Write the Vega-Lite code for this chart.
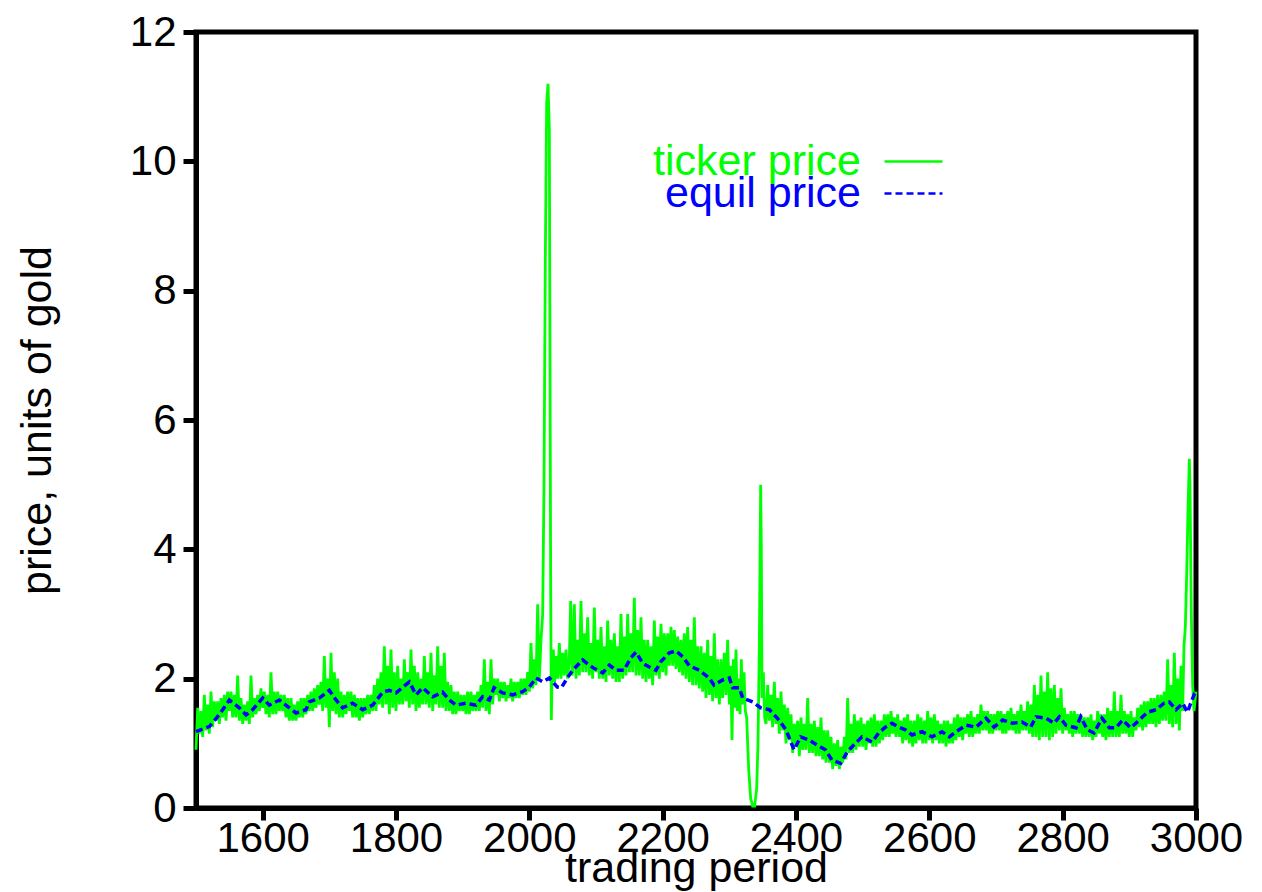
{
  "$schema": "https://vega.github.io/schema/vega-lite/v6.json",
  "width": 1000,
  "height": 776,
  "autosize": {"type": "none"},
  "padding": {"left": 196, "top": 32, "right": 66, "bottom": 84},
  "background": "white",
  "config": {
    "view": {"stroke": "black", "strokeWidth": 5},
    "font": "Liberation Sans",
    "axis": {
      "grid": false,
      "domainColor": "black",
      "domainWidth": 5,
      "tickColor": "black",
      "tickWidth": 5,
      "tickSize": 13,
      "labelFont": "Liberation Sans",
      "labelFontSize": 42,
      "labelColor": "black",
      "titleFont": "Liberation Sans",
      "titleFontSize": 43,
      "titleFontWeight": "normal",
      "titleColor": "black",
      "labelFlush": false,
      "labelOverlap": false
    }
  },
  "datasets": {
    "ticker": [
      {"t":1500,"p":0.90},{"t":1502.5,"p":1.55},{"t":1505,"p":1.15},{"t":1507.5,"p":1.50},{"t":1510,"p":1.10},{"t":1512.5,"p":1.75},{"t":1515,"p":1.20},{"t":1517.5,"p":1.60},
      {"t":1520,"p":1.15},{"t":1522.5,"p":1.80},{"t":1525,"p":1.25},{"t":1527.5,"p":1.65},{"t":1530,"p":1.35},{"t":1532.5,"p":1.65},{"t":1535,"p":1.30},{"t":1537.5,"p":1.70},
      {"t":1540,"p":1.40},{"t":1542.5,"p":1.75},{"t":1545,"p":1.35},{"t":1547.5,"p":1.80},{"t":1550,"p":1.50},{"t":1552.5,"p":1.80},{"t":1555,"p":1.40},{"t":1557.5,"p":1.75},
      {"t":1560,"p":1.40},{"t":1562.5,"p":2.05},{"t":1565,"p":1.35},{"t":1567.5,"p":1.70},{"t":1570,"p":1.30},{"t":1572.5,"p":1.60},{"t":1575,"p":1.35},{"t":1577.5,"p":1.65},
      {"t":1580,"p":1.30},{"t":1582.5,"p":2.05},{"t":1585,"p":1.40},{"t":1587.5,"p":1.70},{"t":1590,"p":1.45},{"t":1592.5,"p":1.75},{"t":1595,"p":1.50},{"t":1597.5,"p":1.85},
      {"t":1600,"p":1.55},{"t":1602.5,"p":1.80},{"t":1605,"p":1.45},{"t":1607.5,"p":1.75},{"t":1610,"p":1.40},{"t":1612.5,"p":2.10},{"t":1615,"p":1.45},{"t":1617.5,"p":1.80},
      {"t":1620,"p":1.45},{"t":1622.5,"p":1.80},{"t":1625,"p":1.50},{"t":1627.5,"p":1.75},{"t":1630,"p":1.50},{"t":1632.5,"p":1.75},{"t":1635,"p":1.40},{"t":1637.5,"p":1.70},
      {"t":1640,"p":1.35},{"t":1642.5,"p":1.70},{"t":1645,"p":1.35},{"t":1647.5,"p":1.60},{"t":1650,"p":1.35},{"t":1652.5,"p":1.65},{"t":1655,"p":1.40},{"t":1657.5,"p":1.70},
      {"t":1660,"p":1.40},{"t":1662.5,"p":1.70},{"t":1665,"p":1.45},{"t":1667.5,"p":1.75},{"t":1670,"p":1.50},{"t":1672.5,"p":1.80},{"t":1675,"p":1.50},{"t":1677.5,"p":1.85},
      {"t":1680,"p":1.55},{"t":1682.5,"p":1.90},{"t":1685,"p":1.60},{"t":1687.5,"p":1.95},{"t":1690,"p":1.50},{"t":1692.5,"p":2.35},{"t":1695,"p":1.55},{"t":1697.5,"p":2.00},
      {"t":1700,"p":1.25},{"t":1702.5,"p":2.40},{"t":1705,"p":1.50},{"t":1707.5,"p":2.10},{"t":1710,"p":1.45},{"t":1712.5,"p":2.00},{"t":1715,"p":1.40},{"t":1717.5,"p":1.80},
      {"t":1720,"p":1.40},{"t":1722.5,"p":1.75},{"t":1725,"p":1.45},{"t":1727.5,"p":1.80},{"t":1730,"p":1.50},{"t":1732.5,"p":1.80},{"t":1735,"p":1.40},{"t":1737.5,"p":1.75},
      {"t":1740,"p":1.40},{"t":1742.5,"p":1.70},{"t":1745,"p":1.35},{"t":1747.5,"p":1.70},{"t":1750,"p":1.40},{"t":1752.5,"p":1.70},{"t":1755,"p":1.45},{"t":1757.5,"p":1.75},
      {"t":1760,"p":1.45},{"t":1762.5,"p":1.75},{"t":1765,"p":1.50},{"t":1767.5,"p":1.90},{"t":1770,"p":1.50},{"t":1772.5,"p":2.00},{"t":1775,"p":1.60},{"t":1777.5,"p":2.10},
      {"t":1780,"p":1.55},{"t":1782.5,"p":2.50},{"t":1785,"p":1.60},{"t":1787.5,"p":2.20},{"t":1790,"p":1.45},{"t":1792.5,"p":2.45},{"t":1795,"p":1.55},{"t":1797.5,"p":2.10},
      {"t":1800,"p":1.50},{"t":1802.5,"p":2.20},{"t":1805,"p":1.60},{"t":1807.5,"p":2.00},{"t":1810,"p":1.60},{"t":1812.5,"p":2.30},{"t":1815,"p":1.65},{"t":1817.5,"p":2.10},
      {"t":1820,"p":1.55},{"t":1822.5,"p":2.45},{"t":1825,"p":1.60},{"t":1827.5,"p":2.20},{"t":1830,"p":1.50},{"t":1832.5,"p":2.10},{"t":1835,"p":1.55},{"t":1837.5,"p":2.00},
      {"t":1840,"p":1.60},{"t":1842.5,"p":2.35},{"t":1845,"p":1.60},{"t":1847.5,"p":2.10},{"t":1850,"p":1.55},{"t":1852.5,"p":2.40},{"t":1855,"p":1.50},{"t":1857.5,"p":2.05},
      {"t":1860,"p":1.60},{"t":1862.5,"p":2.50},{"t":1865,"p":1.55},{"t":1867.5,"p":2.20},{"t":1870,"p":1.55},{"t":1872.5,"p":2.40},{"t":1875,"p":1.50},{"t":1877.5,"p":1.95},
      {"t":1880,"p":1.50},{"t":1882.5,"p":1.90},{"t":1885,"p":1.45},{"t":1887.5,"p":1.80},{"t":1890,"p":1.45},{"t":1892.5,"p":1.80},{"t":1895,"p":1.50},{"t":1897.5,"p":1.75},
      {"t":1900,"p":1.50},{"t":1902.5,"p":1.75},{"t":1905,"p":1.45},{"t":1907.5,"p":1.80},{"t":1910,"p":1.45},{"t":1912.5,"p":1.80},{"t":1915,"p":1.50},{"t":1917.5,"p":1.75},
      {"t":1920,"p":1.50},{"t":1922.5,"p":1.80},{"t":1925,"p":1.50},{"t":1927.5,"p":1.90},{"t":1930,"p":1.55},{"t":1932.5,"p":2.30},{"t":1935,"p":1.50},{"t":1937.5,"p":1.95},
      {"t":1940,"p":1.45},{"t":1942.5,"p":2.30},{"t":1945,"p":1.60},{"t":1947.5,"p":2.00},{"t":1950,"p":1.75},{"t":1952.5,"p":2.00},{"t":1955,"p":1.65},{"t":1957.5,"p":1.95},
      {"t":1960,"p":1.70},{"t":1962.5,"p":1.95},{"t":1965,"p":1.65},{"t":1967.5,"p":1.90},{"t":1970,"p":1.70},{"t":1972.5,"p":2.00},{"t":1975,"p":1.65},{"t":1977.5,"p":1.95},
      {"t":1980,"p":1.70},{"t":1982.5,"p":1.95},{"t":1985,"p":1.70},{"t":1987.5,"p":2.00},{"t":1990,"p":1.75},{"t":1992.5,"p":2.00},{"t":1995,"p":1.75},{"t":1997.5,"p":2.10},
      {"t":2000,"p":1.80},{"t":2002.5,"p":2.55},{"t":2005,"p":1.85},{"t":2007.5,"p":2.30},{"t":2010,"p":1.90},{"t":2012.5,"p":3.15},{"t":2015,"p":2.00},{"t":2017.5,"p":2.60},
      {"t":2020,"p":3.00},{"t":2022,"p":5.00},{"t":2024,"p":8.50},{"t":2026,"p":10.9},{"t":2028,"p":11.2},{"t":2030,"p":10.5},{"t":2031,"p":7.00},{"t":2032,"p":3.50},
      {"t":2033,"p":1.36},{"t":2034,"p":2.00},{"t":2036,"p":2.45},{"t":2038,"p":1.95},{"t":2040,"p":2.35},{"t":2042.5,"p":2.00},{"t":2045,"p":2.55},{"t":2047.5,"p":2.00},
      {"t":2050,"p":2.40},{"t":2052.5,"p":2.05},{"t":2055,"p":2.45},{"t":2057.5,"p":2.00},{"t":2060,"p":2.30},{"t":2062,"p":3.20},{"t":2064,"p":2.05},
      {"t":2065,"p":2.10},{"t":2067.5,"p":3.15},{"t":2070,"p":2.00},{"t":2072.5,"p":2.60},{"t":2075,"p":2.05},{"t":2077.5,"p":3.20},{"t":2080,"p":2.10},{"t":2082.5,"p":2.70},
      {"t":2085,"p":2.10},{"t":2087.5,"p":2.95},{"t":2090,"p":2.05},{"t":2092.5,"p":2.55},{"t":2095,"p":2.00},{"t":2097.5,"p":3.10},{"t":2100,"p":2.10},{"t":2102.5,"p":2.60},
      {"t":2105,"p":2.00},{"t":2107.5,"p":2.80},{"t":2110,"p":2.00},{"t":2112.5,"p":2.50},{"t":2115,"p":1.95},{"t":2117.5,"p":2.90},{"t":2120,"p":2.05},{"t":2122.5,"p":2.60},
      {"t":2125,"p":2.00},{"t":2127.5,"p":2.70},{"t":2130,"p":1.95},{"t":2132.5,"p":2.50},{"t":2135,"p":1.95},{"t":2137.5,"p":3.00},{"t":2140,"p":2.00},{"t":2142.5,"p":2.65},
      {"t":2145,"p":2.05},{"t":2147.5,"p":3.00},{"t":2150,"p":2.10},{"t":2152.5,"p":2.70},{"t":2155,"p":2.10},{"t":2157.5,"p":3.25},{"t":2160,"p":2.05},{"t":2162.5,"p":2.75},
      {"t":2165,"p":2.05},{"t":2167.5,"p":2.95},{"t":2170,"p":2.00},{"t":2172.5,"p":2.60},{"t":2175,"p":1.95},{"t":2177.5,"p":2.60},{"t":2180,"p":2.00},{"t":2182.5,"p":2.50},
      {"t":2185,"p":1.90},{"t":2187.5,"p":2.90},{"t":2190,"p":2.05},{"t":2192.5,"p":2.65},{"t":2195,"p":2.00},{"t":2197.5,"p":2.85},{"t":2200,"p":2.10},{"t":2202.5,"p":2.70},
      {"t":2205,"p":2.05},{"t":2207.5,"p":2.70},{"t":2210,"p":2.20},{"t":2212.5,"p":2.80},{"t":2215,"p":2.20},{"t":2217.5,"p":2.75},{"t":2220,"p":2.15},{"t":2222.5,"p":2.65},
      {"t":2225,"p":2.10},{"t":2227.5,"p":2.60},{"t":2230,"p":2.05},{"t":2232.5,"p":2.70},{"t":2235,"p":2.00},{"t":2237.5,"p":2.80},{"t":2240,"p":1.95},{"t":2242.5,"p":2.60},
      {"t":2245,"p":1.90},{"t":2247.5,"p":2.95},{"t":2250,"p":1.90},{"t":2252.5,"p":2.50},{"t":2255,"p":1.85},{"t":2257.5,"p":2.50},{"t":2260,"p":1.80},{"t":2262.5,"p":2.40},
      {"t":2265,"p":1.70},{"t":2267.5,"p":2.60},{"t":2270,"p":1.75},{"t":2272.5,"p":2.35},{"t":2275,"p":1.65},{"t":2277.5,"p":2.70},{"t":2280,"p":1.70},{"t":2282.5,"p":2.30},
      {"t":2285,"p":1.60},{"t":2287.5,"p":2.30},{"t":2290,"p":1.70},{"t":2292.5,"p":2.40},{"t":2295,"p":1.75},{"t":2297.5,"p":2.60},{"t":2300,"p":1.60},{"t":2302,"p":2.20},
      {"t":2304,"p":1.05},{"t":2306,"p":2.30},{"t":2308,"p":1.55},{"t":2310,"p":2.45},{"t":2312,"p":1.50},{"t":2314,"p":2.00},{"t":2316,"p":1.45},{"t":2318,"p":2.30},
      {"t":2320,"p":1.60},{"t":2322,"p":2.10},{"t":2324,"p":1.50},{"t":2326,"p":1.40},{"t":2329,"p":0.60},{"t":2332,"p":0.15},{"t":2335,"p":0.03},{"t":2338,"p":0.03},
      {"t":2341,"p":0.30},{"t":2343,"p":1.00},{"t":2345,"p":2.50},{"t":2347,"p":5.00},{"t":2348,"p":4.00},{"t":2349,"p":1.70},{"t":2351,"p":2.10},{"t":2353,"p":1.40},
      {"t":2355,"p":1.30},{"t":2357.5,"p":1.90},{"t":2360,"p":1.35},{"t":2362.5,"p":1.75},{"t":2365,"p":1.25},{"t":2367.5,"p":1.95},{"t":2370,"p":1.30},{"t":2372.5,"p":1.70},
      {"t":2375,"p":1.15},{"t":2377.5,"p":1.80},{"t":2380,"p":1.20},{"t":2382.5,"p":1.60},{"t":2385,"p":1.00},{"t":2387.5,"p":1.55},{"t":2390,"p":1.05},{"t":2392.5,"p":1.45},
      {"t":2395,"p":0.85},{"t":2397.5,"p":1.30},{"t":2400,"p":0.95},{"t":2402.5,"p":1.35},{"t":2405,"p":0.80},{"t":2407.5,"p":1.40},{"t":2410,"p":0.90},{"t":2412.5,"p":1.30},
      {"t":2415,"p":0.90},{"t":2417.5,"p":1.70},{"t":2420,"p":0.85},{"t":2422.5,"p":1.30},{"t":2425,"p":0.85},{"t":2427.5,"p":1.35},{"t":2430,"p":0.80},{"t":2432.5,"p":1.25},
      {"t":2435,"p":0.80},{"t":2437.5,"p":1.40},{"t":2440,"p":0.75},{"t":2442.5,"p":1.20},{"t":2445,"p":0.70},{"t":2447.5,"p":1.20},{"t":2450,"p":0.70},{"t":2452.5,"p":1.10},
      {"t":2455,"p":0.60},{"t":2457.5,"p":1.00},{"t":2460,"p":0.65},{"t":2462.5,"p":1.05},{"t":2465,"p":0.60},{"t":2467.5,"p":0.95},{"t":2470,"p":0.70},{"t":2472.5,"p":1.10},
      {"t":2475,"p":0.75},{"t":2477.5,"p":1.70},{"t":2480,"p":0.85},{"t":2482.5,"p":1.30},{"t":2485,"p":0.85},{"t":2487.5,"p":1.45},{"t":2490,"p":0.90},{"t":2492.5,"p":1.35},
      {"t":2495,"p":0.95},{"t":2497.5,"p":1.40},{"t":2500,"p":0.95},{"t":2502.5,"p":1.30},{"t":2505,"p":0.90},{"t":2507.5,"p":1.35},{"t":2510,"p":1.00},{"t":2512.5,"p":1.40},
      {"t":2515,"p":0.95},{"t":2517.5,"p":1.45},{"t":2520,"p":0.95},{"t":2522.5,"p":1.35},{"t":2525,"p":1.00},{"t":2527.5,"p":1.35},{"t":2530,"p":1.05},{"t":2532.5,"p":1.45},
      {"t":2535,"p":1.10},{"t":2537.5,"p":1.45},{"t":2540,"p":1.10},{"t":2542.5,"p":1.50},{"t":2545,"p":1.15},{"t":2547.5,"p":1.40},{"t":2550,"p":1.10},{"t":2552.5,"p":1.45},
      {"t":2555,"p":1.10},{"t":2557.5,"p":1.35},{"t":2560,"p":1.00},{"t":2562.5,"p":1.40},{"t":2565,"p":1.05},{"t":2567.5,"p":1.45},{"t":2570,"p":1.00},{"t":2572.5,"p":1.35},
      {"t":2575,"p":0.95},{"t":2577.5,"p":1.35},{"t":2580,"p":1.00},{"t":2582.5,"p":1.45},{"t":2585,"p":1.05},{"t":2587.5,"p":1.40},{"t":2590,"p":1.00},{"t":2592.5,"p":1.35},
      {"t":2595,"p":1.00},{"t":2597.5,"p":1.50},{"t":2600,"p":1.05},{"t":2602.5,"p":1.40},{"t":2605,"p":1.00},{"t":2607.5,"p":1.45},{"t":2610,"p":1.05},{"t":2612.5,"p":1.35},
      {"t":2615,"p":1.00},{"t":2617.5,"p":1.30},{"t":2620,"p":1.00},{"t":2622.5,"p":1.35},{"t":2625,"p":0.95},{"t":2627.5,"p":1.35},{"t":2630,"p":1.00},{"t":2632.5,"p":1.30},
      {"t":2635,"p":1.00},{"t":2637.5,"p":1.40},{"t":2640,"p":1.05},{"t":2642.5,"p":1.45},{"t":2645,"p":1.10},{"t":2647.5,"p":1.40},{"t":2650,"p":1.05},{"t":2652.5,"p":1.40},
      {"t":2655,"p":1.15},{"t":2657.5,"p":1.45},{"t":2660,"p":1.10},{"t":2662.5,"p":1.50},{"t":2665,"p":1.10},{"t":2667.5,"p":1.40},{"t":2670,"p":1.15},{"t":2672.5,"p":1.45},
      {"t":2675,"p":1.15},{"t":2677.5,"p":1.60},{"t":2680,"p":1.20},{"t":2682.5,"p":1.50},{"t":2685,"p":1.20},{"t":2687.5,"p":1.50},{"t":2690,"p":1.15},{"t":2692.5,"p":1.45},
      {"t":2695,"p":1.15},{"t":2697.5,"p":1.45},{"t":2700,"p":1.20},{"t":2702.5,"p":1.50},{"t":2705,"p":1.20},{"t":2707.5,"p":1.50},{"t":2710,"p":1.15},{"t":2712.5,"p":1.45},
      {"t":2715,"p":1.15},{"t":2717.5,"p":1.50},{"t":2720,"p":1.20},{"t":2722.5,"p":1.55},{"t":2725,"p":1.20},{"t":2727.5,"p":1.45},{"t":2730,"p":1.15},{"t":2732.5,"p":1.50},
      {"t":2735,"p":1.15},{"t":2737.5,"p":1.60},{"t":2740,"p":1.20},{"t":2742.5,"p":1.50},{"t":2745,"p":1.20},{"t":2747.5,"p":1.65},{"t":2750,"p":1.15},{"t":2752.5,"p":1.60},
      {"t":2755,"p":1.10},{"t":2757.5,"p":1.90},{"t":2760,"p":1.10},{"t":2762.5,"p":1.75},{"t":2765,"p":1.05},{"t":2767.5,"p":2.05},{"t":2770,"p":1.10},{"t":2772.5,"p":1.80},
      {"t":2775,"p":1.10},{"t":2777.5,"p":2.10},{"t":2780,"p":1.05},{"t":2782.5,"p":1.85},{"t":2785,"p":1.10},{"t":2787.5,"p":1.90},{"t":2790,"p":1.15},{"t":2792.5,"p":1.70},
      {"t":2795,"p":1.20},{"t":2797.5,"p":1.85},{"t":2800,"p":1.15},{"t":2802.5,"p":1.55},{"t":2805,"p":1.20},{"t":2807.5,"p":1.45},{"t":2810,"p":1.15},{"t":2812.5,"p":1.50},
      {"t":2815,"p":1.10},{"t":2817.5,"p":1.50},{"t":2820,"p":1.15},{"t":2822.5,"p":1.45},{"t":2825,"p":1.15},{"t":2827.5,"p":1.45},{"t":2830,"p":1.10},{"t":2832.5,"p":1.40},
      {"t":2835,"p":1.10},{"t":2837.5,"p":1.40},{"t":2840,"p":1.10},{"t":2842.5,"p":1.45},{"t":2845,"p":1.05},{"t":2847.5,"p":1.35},{"t":2850,"p":1.10},{"t":2852.5,"p":1.50},
      {"t":2855,"p":1.15},{"t":2857.5,"p":1.45},{"t":2860,"p":1.10},{"t":2862.5,"p":1.45},{"t":2865,"p":1.05},{"t":2867.5,"p":1.55},{"t":2870,"p":1.10},{"t":2872.5,"p":1.50},
      {"t":2875,"p":1.10},{"t":2877.5,"p":1.80},{"t":2880,"p":1.10},{"t":2882.5,"p":1.50},{"t":2885,"p":1.10},{"t":2887.5,"p":1.75},{"t":2890,"p":1.15},{"t":2892.5,"p":1.50},
      {"t":2895,"p":1.15},{"t":2897.5,"p":1.45},{"t":2900,"p":1.10},{"t":2902.5,"p":1.50},{"t":2905,"p":1.10},{"t":2907.5,"p":1.40},{"t":2910,"p":1.20},{"t":2912.5,"p":1.55},
      {"t":2915,"p":1.25},{"t":2917.5,"p":1.60},{"t":2920,"p":1.20},{"t":2922.5,"p":1.65},{"t":2925,"p":1.25},{"t":2927.5,"p":1.65},{"t":2930,"p":1.30},{"t":2932.5,"p":1.70},
      {"t":2935,"p":1.30},{"t":2937.5,"p":1.70},{"t":2940,"p":1.25},{"t":2942.5,"p":1.75},{"t":2945,"p":1.30},{"t":2947.5,"p":1.75},{"t":2950,"p":1.35},{"t":2952.5,"p":1.80},
      {"t":2955,"p":1.35},{"t":2957.5,"p":2.30},{"t":2960,"p":1.30},{"t":2962.5,"p":1.90},{"t":2965,"p":1.25},{"t":2967.5,"p":2.40},{"t":2970,"p":1.30},{"t":2972.5,"p":2.00},
      {"t":2975,"p":1.20},{"t":2977.5,"p":2.20},{"t":2980,"p":1.50},{"t":2982,"p":2.50},{"t":2984,"p":2.80},{"t":2986,"p":3.60},{"t":2988,"p":4.60},{"t":2990,"p":5.40},
      {"t":2991,"p":5.00},{"t":2993,"p":3.00},{"t":2995,"p":1.90},{"t":2997,"p":1.50},{"t":3000,"p":1.80}
    ],
    "equil": [
      {"t":1500,"p":1.18},{"t":1510,"p":1.22},{"t":1520,"p":1.26},{"t":1530,"p":1.38},{"t":1540,"p":1.52},{"t":1550,"p":1.67},{"t":1565,"p":1.55},{"t":1575,"p":1.44},{"t":1585,"p":1.52},{"t":1600,"p":1.70},
      {"t":1610,"p":1.59},{"t":1625,"p":1.67},{"t":1640,"p":1.55},{"t":1650,"p":1.47},{"t":1665,"p":1.52},{"t":1670,"p":1.64},{"t":1685,"p":1.70},{"t":1700,"p":1.82},{"t":1710,"p":1.67},{"t":1720,"p":1.55},
      {"t":1735,"p":1.62},{"t":1750,"p":1.52},{"t":1765,"p":1.59},{"t":1780,"p":1.79},{"t":1790,"p":1.82},{"t":1800,"p":1.78},{"t":1820,"p":1.95},{"t":1830,"p":1.75},{"t":1840,"p":1.86},{"t":1855,"p":1.72},
      {"t":1870,"p":1.79},{"t":1880,"p":1.67},{"t":1890,"p":1.59},{"t":1905,"p":1.62},{"t":1920,"p":1.59},{"t":1930,"p":1.72},{"t":1940,"p":1.67},{"t":1947,"p":1.86},{"t":1960,"p":1.78},{"t":1975,"p":1.75},
      {"t":1990,"p":1.80},{"t":2000,"p":1.87},{"t":2010,"p":2.01},{"t":2020,"p":1.95},{"t":2030,"p":2.01},{"t":2042,"p":1.87},{"t":2048,"p":1.86},{"t":2057,"p":2.01},{"t":2065,"p":2.13},{"t":2080,"p":2.29},
      {"t":2090,"p":2.21},{"t":2097,"p":2.16},{"t":2110,"p":2.09},{"t":2120,"p":2.21},{"t":2130,"p":2.13},{"t":2142,"p":2.13},{"t":2152,"p":2.32},{"t":2160,"p":2.41},{"t":2170,"p":2.24},{"t":2180,"p":2.18},
      {"t":2190,"p":2.13},{"t":2197,"p":2.26},{"t":2210,"p":2.40},{"t":2220,"p":2.43},{"t":2230,"p":2.34},{"t":2240,"p":2.20},{"t":2255,"p":2.13},{"t":2270,"p":2.01},{"t":2277,"p":1.90},{"t":2290,"p":1.98},
      {"t":2300,"p":2.01},{"t":2305,"p":1.86},{"t":2315,"p":1.86},{"t":2320,"p":1.70},{"t":2335,"p":1.64},{"t":2347,"p":1.55},{"t":2360,"p":1.52},{"t":2372,"p":1.39},{"t":2385,"p":1.21},{"t":2397,"p":0.90},
      {"t":2407,"p":1.10},{"t":2420,"p":1.05},{"t":2432,"p":0.97},{"t":2444,"p":0.90},{"t":2454,"p":0.74},{"t":2467,"p":0.69},{"t":2477,"p":0.87},{"t":2489,"p":1.00},{"t":2499,"p":1.10},{"t":2514,"p":1.02},
      {"t":2524,"p":1.16},{"t":2534,"p":1.25},{"t":2544,"p":1.31},{"t":2554,"p":1.25},{"t":2564,"p":1.21},{"t":2574,"p":1.13},{"t":2589,"p":1.18},{"t":2604,"p":1.10},{"t":2619,"p":1.18},{"t":2630,"p":1.10},
      {"t":2640,"p":1.18},{"t":2655,"p":1.28},{"t":2670,"p":1.25},{"t":2685,"p":1.39},{"t":2697,"p":1.25},{"t":2710,"p":1.36},{"t":2725,"p":1.31},{"t":2739,"p":1.33},{"t":2752,"p":1.25},{"t":2760,"p":1.41},
      {"t":2775,"p":1.39},{"t":2787,"p":1.31},{"t":2795,"p":1.41},{"t":2805,"p":1.28},{"t":2820,"p":1.24},{"t":2827,"p":1.41},{"t":2837,"p":1.21},{"t":2847,"p":1.16},{"t":2859,"p":1.39},{"t":2870,"p":1.24},
      {"t":2880,"p":1.24},{"t":2890,"p":1.36},{"t":2902,"p":1.24},{"t":2915,"p":1.36},{"t":2927,"p":1.48},{"t":2940,"p":1.52},{"t":2952,"p":1.62},{"t":2960,"p":1.64},{"t":2970,"p":1.52},{"t":2980,"p":1.62},
      {"t":2987,"p":1.48},{"t":2997,"p":1.75},{"t":3000,"p":1.72}
    ]
  },
  "encoding": {
    "x": {
      "field": "t", "type": "quantitative",
      "scale": {"domain": [1500, 3000], "nice": false, "zero": false},
      "axis": {"values": [1600, 1800, 2000, 2200, 2400, 2600, 2800, 3000], "format": "d", "tickSize": 12, "labelPadding": -2, "title": "trading period", "titleBaseline": "alphabetic", "titleY": 73}
    },
    "y": {
      "field": "p", "type": "quantitative",
      "scale": {"domain": [0, 12], "nice": false},
      "axis": {"values": [0, 2, 4, 6, 8, 10, 12], "format": "d", "labelPadding": 7, "title": "price, units of gold", "titleBaseline": "alphabetic", "titleX": -146}
    }
  },
  "layer": [
    {
      "data": {"name": "ticker"},
      "mark": {"type": "line", "strokeWidth": 2.8, "interpolate": "linear", "strokeJoin": "miter"},
      "encoding": {
        "color": {"datum": "ticker price", "type": "nominal",
          "scale": {"domain": ["ticker price", "equil price"], "range": ["#00ff00", "#0000ff"]},
          "legend": {"title": null, "orient": "none", "legendX": 687, "legendY": 99, "padding": 0,
            "values": ["ticker price"],
            "symbolType": "stroke", "symbolSize": 3364, "symbolStrokeWidth": 2.5,
            "labelFont": "Liberation Sans", "labelFontSize": 43, "labelLimit": 600, "labelColor": "#00ff00",
            "encode": {
              "labels": {"update": {"x": {"value": -22}, "align": {"value": "right"}}}}}},
        "strokeDash": {"datum": "ticker price", "type": "nominal",
          "scale": {"domain": ["equil price", "ticker price"], "range": [[7, 4], [1, 0]]},
          "legend": {"title": null, "orient": "none", "legendX": 687, "legendY": 131, "padding": 0,
            "values": ["equil price"],
            "symbolType": "stroke", "symbolSize": 3364, "symbolStrokeWidth": 2.5, "symbolStrokeColor": "#0000ff",
            "labelFont": "Liberation Sans", "labelFontSize": 43, "labelLimit": 600, "labelColor": "#0000ff",
            "encode": {
              "labels": {"update": {"x": {"value": -22}, "align": {"value": "right"}}}}}}
      }
    },
    {
      "data": {"name": "equil"},
      "mark": {"type": "line", "strokeWidth": 3.5, "interpolate": "linear"},
      "encoding": {
        "color": {"datum": "equil price", "type": "nominal"},
        "strokeDash": {"datum": "equil price", "type": "nominal"}
      }
    }
  ]
}
